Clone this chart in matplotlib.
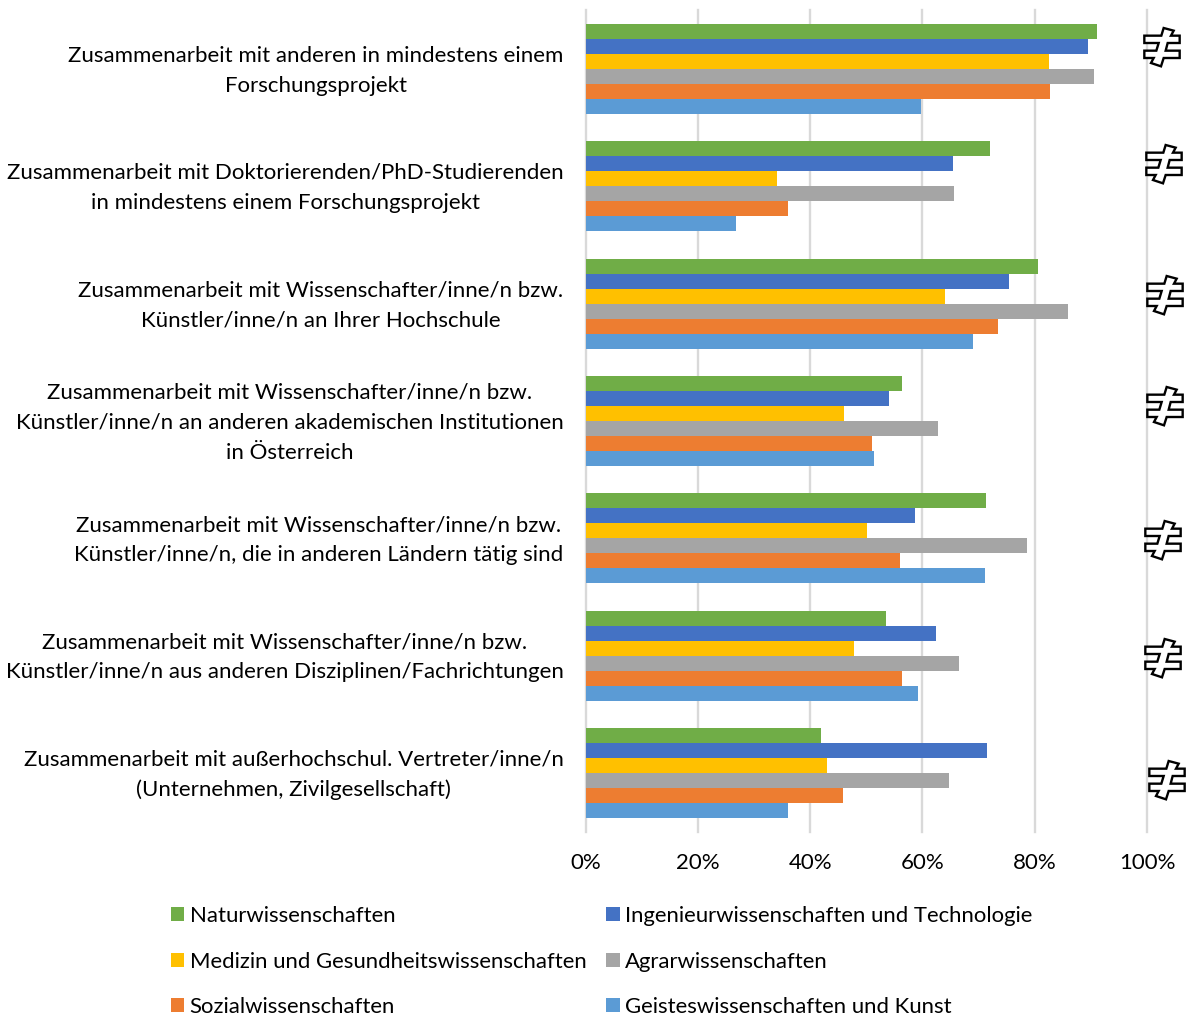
import numpy as np
import matplotlib
matplotlib.use('Agg')
import matplotlib.pyplot as plt
from matplotlib.patches import Polygon

plt.rcParams['font.family'] = ['Lato', 'DejaVu Sans']

labels = [
    'Zusammenarbeit mit anderen in mindestens einem\nForschungsprojekt',
    'Zusammenarbeit mit Doktorierenden/PhD-Studierenden\nin mindestens einem Forschungsprojekt',
    'Zusammenarbeit mit Wissenschafter/inne/n bzw.\nKünstler/inne/n an Ihrer Hochschule',
    'Zusammenarbeit mit Wissenschafter/inne/n bzw.\nKünstler/inne/n an anderen akademischen Institutionen\nin Österreich',
    'Zusammenarbeit mit Wissenschafter/inne/n bzw.\nKünstler/inne/n, die in anderen Ländern tätig sind',
    'Zusammenarbeit mit Wissenschafter/inne/n bzw.\nKünstler/inne/n aus anderen Disziplinen/Fachrichtungen',
    'Zusammenarbeit mit außerhochschul. Vertreter/inne/n\n(Unternehmen, Zivilgesellschaft)',
]

natur = [91.1, 72.0, 80.6, 56.4, 71.3, 53.5, 42.0]
ingenieur = [89.5, 65.5, 75.4, 54.0, 58.7, 62.4, 71.5]
medizin = [82.5, 34.1, 64.0, 46.0, 50.1, 47.8, 43.0]
agrar = [90.6, 65.6, 86.0, 62.8, 78.6, 66.5, 64.7]
sozial = [82.8, 36.1, 73.5, 51.0, 56.0, 56.4, 45.9]
geistes = [59.8, 26.8, 69.0, 51.4, 71.1, 59.2, 36.1]

series = [natur, ingenieur, medizin, agrar, sozial, geistes]
names = ['Naturwissenschaften', 'Ingenieurwissenschaften und Technologie',
         'Medizin und Gesundheitswissenschaften', 'Agrarwissenschaften',
         'Sozialwissenschaften', 'Geisteswissenschaften und Kunst']
colors = ['#70AD47', '#4472C4', '#FFC000', '#A5A5A5', '#ED7D31', '#5B9BD5']

# centres of the outlined signs at the right, in pixels from the top left
sign_x = [1162, 1164, 1165, 1165, 1163, 1163, 1167]
sign_y = [47, 164, 295, 406, 540, 658, 780]

W, H = 1192, 1016
fig = plt.figure(figsize=(W / 100, H / 100), dpi=100)
ax = fig.add_axes([585.5 / W, 1 - 831.7 / H, (1147 - 585.5) / W, (831.7 - 10.3) / H])

y = np.arange(len(labels))
bar_h = 15 / 117.33
for i, vals in enumerate(series):
    ax.barh(y + (i - 2.5) * bar_h, vals, height=bar_h, color=colors[i], label=names[i], zorder=3)

ax.set_xlim(0, 100)
ax.set_ylim(len(labels) - 0.5, -0.5)
ax.set_xticks(np.arange(0, 101, 20))
ax.set_xticklabels([str(t) + '%' for t in range(0, 101, 20)], fontsize=16)
ax.set_yticks(y)
ax.set_yticklabels([])
ax.tick_params(length=0)
ax.tick_params(axis='x', pad=15)
ax.grid(axis='x', color='#D9D9D9', linewidth=1.7, zorder=0, clip_on=False)
for s in ax.spines.values():
    s.set_visible(False)

# category labels, centred line by line and right aligned next to the axis
for yi, lab in zip(y, labels):
    ax.text(-3.92, yi + 0.014, lab, ha='right', va='center', multialignment='center',
            fontsize=16, linespacing=1.62)

# outlined "not equal" sign, unit is one pixel
sign = np.array([(100, 35), (130, 43), (122, 58), (148, 58), (148, 80), (112, 80),
                 (106, 103), (148, 103), (148, 125), (100, 125), (92, 150), (62, 140),
                 (70, 125), (42, 125), (42, 103), (78, 103), (85, 80), (42, 80),
                 (42, 58), (93, 58)], dtype=float)
sign = (sign - [95, 92]) / 3
for sx, sy in zip(sign_x, sign_y):
    pts = (sign + [sx, sy]) * [1, -1] + [0, H]
    fig.add_artist(Polygon(pts, closed=True, transform=None, facecolor='white',
                           edgecolor='black', linewidth=1.7, joinstyle='miter'))

# legend fills by column, the reading order goes by row
handles, leg_labels = ax.get_legend_handles_labels()
order = [0, 2, 4, 1, 3, 5]
fig.legend([handles[i] for i in order], [leg_labels[i] for i in order], ncol=2,
           loc='lower left', bbox_to_anchor=(151 / W, -21 / H), frameon=False, fontsize=15.95,
           handlelength=0.6, handleheight=0.6, handletextpad=0.25,
           columnspacing=0.9, labelspacing=1.15)

fig.savefig('out.png', dpi=100)
